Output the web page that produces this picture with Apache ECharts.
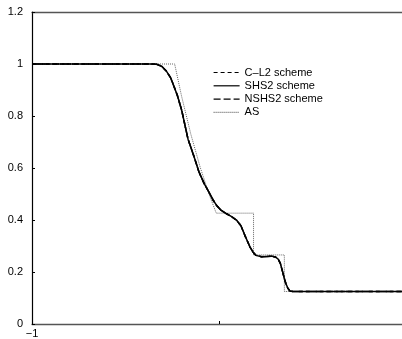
<!DOCTYPE html>
<html>
<head>
<meta charset="utf-8">
<script src="https://cdn.jsdelivr.net/npm/echarts@6/dist/echarts.min.js"></script>
<style>
  html, body { margin: 0; padding: 0; background: #fff; }
  #chart { width: 402px; height: 339px; }
</style>
</head>
<body>
<div id="chart"></div>
<script>
// Density profiles of the shock tube problem
const yTicks = [0, 0.2, 0.4, 0.6, 0.8, 1, 1.2];
const xTickLabels = { '-1': '\u22121' };

// Analytical solution (AS)
const asX = [-1, -0.2366, -0.2, -0.15, -0.1, -0.05, -0.0141, 0.1855, 0.1855, 0.3504, 0.3504, 0.98];
const asY = [1, 1, 0.8775, 0.7299, 0.6029, 0.4943, 0.4263, 0.4263, 0.2656, 0.2656, 0.125, 0.125];

// Numerical schemes, sampled on a common set of positions
const numX = [-1, -0.369, -0.333, -0.306, -0.280, -0.258, -0.237, -0.222, -0.199, -0.165, -0.134,
  -0.106, -0.078, -0.053, -0.032, -0.012, 0.011, 0.041, 0.064, 0.095, 0.118, 0.139, 0.166,
  0.182, 0.198, 0.228, 0.257, 0.282, 0.302, 0.317, 0.329, 0.341, 0.350, 0.358, 0.369, 0.380,
  0.396, 0.416, 0.98];
const cl2Y = [1, 1, 0.999, 0.991, 0.972, 0.947, 0.908, 0.879, 0.822, 0.711, 0.646,
  0.584, 0.539, 0.507, 0.478, 0.456, 0.438, 0.424, 0.415, 0.399, 0.378, 0.341, 0.297,
  0.277, 0.264, 0.259, 0.260, 0.261, 0.258, 0.250, 0.233, 0.201, 0.176, 0.157, 0.138, 0.127,
  0.125, 0.125, 0.125];
const shs2Y = [1, 1, 0.999, 0.991, 0.972, 0.947, 0.908, 0.879, 0.822, 0.711, 0.646,
  0.584, 0.539, 0.507, 0.478, 0.456, 0.438, 0.424, 0.415, 0.399, 0.378, 0.341, 0.297,
  0.277, 0.264, 0.259, 0.260, 0.261, 0.258, 0.250, 0.233, 0.201, 0.176, 0.157, 0.138, 0.127,
  0.125, 0.125, 0.125];
const nshs2Y = [1, 1, 0.999, 0.991, 0.972, 0.947, 0.908, 0.879, 0.822, 0.711, 0.646,
  0.584, 0.539, 0.507, 0.478, 0.456, 0.438, 0.424, 0.415, 0.399, 0.378, 0.341, 0.297,
  0.277, 0.264, 0.259, 0.260, 0.261, 0.258, 0.250, 0.233, 0.201, 0.176, 0.157, 0.138, 0.127,
  0.125, 0.125, 0.125];

const names = ['C\u2013L2 scheme', 'SHS2 scheme', 'NSHS2 scheme', 'AS'];

const pairs = (xs, ys) => xs.map((x, i) => [x, ys[i]]);
const FONT = 'Liberation Sans, Arial, Helvetica, sans-serif';

const chart = echarts.init(document.getElementById('chart'), null, { renderer: 'canvas' });

const lineSeries = (name, xs, ys, style, z) => ({
  name,
  type: 'line',
  data: pairs(xs, ys),
  symbol: 'none',
  showSymbol: false,
  animation: false,
  z,
  itemStyle: { color: style.color },
  lineStyle: style
});

chart.setOption({
  animation: false,
  backgroundColor: '#fff',
  grid: { left: 32, top: 12, right: 0, bottom: 13, show: false },
  legend: {
    data: names,
    orient: 'vertical',
    left: 213,
    top: 67,
    padding: 0,
    itemWidth: 26,
    itemHeight: 11,
    itemGap: 2.3,
    itemStyle: { opacity: 0 },
    lineStyle: { width: 1.2 },
    textStyle: { fontFamily: FONT, fontSize: 11, color: '#000' },
    selectedMode: false
  },
  xAxis: [{
    type: 'value',
    min: -1,
    max: 0.98,
    interval: 1,
    splitLine: { show: false },
    axisLine: { show: true, onZero: false, lineStyle: { color: '#555', width: 1.3 } },
    axisTick: { show: true, inside: true, length: 3, lineStyle: { color: '#000' } },
    axisLabel: {
      fontFamily: FONT, fontSize: 11, color: '#000', margin: 4,
      showMaxLabel: false,
      formatter: v => xTickLabels[String(v)] || ''
    }
  }, {
    // top frame line
    type: 'value',
    position: 'top',
    min: -1,
    max: 0.98,
    interval: 1,
    splitLine: { show: false },
    axisLine: { show: true, onZero: false, lineStyle: { color: '#555', width: 1.3 } },
    axisTick: { show: false },
    axisLabel: { show: false }
  }],
  yAxis: {
    type: 'value',
    min: yTicks[0],
    max: yTicks[yTicks.length - 1],
    interval: 0.2,
    splitLine: { show: false },
    axisLine: { show: true, onZero: false, lineStyle: { color: '#000', width: 1.2 } },
    axisTick: { show: true, inside: true, length: 3, lineStyle: { color: '#000' } },
    axisLabel: {
      fontFamily: FONT, fontSize: 11, color: '#000', margin: 9,
      formatter: v => String(+v.toFixed(1))
    }
  },
  series: [
    lineSeries(names[3], asX, asY, { color: '#666', width: 1, type: [1, 1] }, 1),
    lineSeries(names[0], numX, cl2Y, { color: '#000', width: 1.5, type: [4, 3] }, 2),
    lineSeries(names[1], numX, shs2Y, { color: '#000', width: 1.5, type: 'solid' }, 3),
    lineSeries(names[2], numX, nshs2Y, { color: '#000', width: 1.5, type: [7, 3] }, 4)
  ]
});
</script>
</body>
</html>
